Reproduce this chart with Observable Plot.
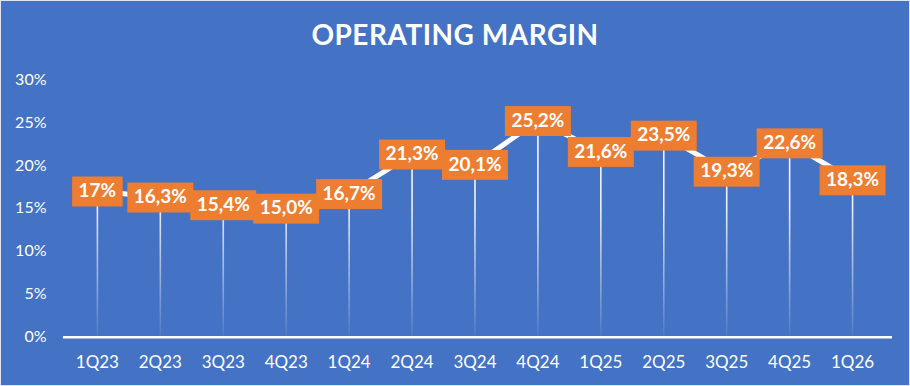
<!DOCTYPE html>
<html><head><meta charset="utf-8">
<script src="https://cdn.jsdelivr.net/npm/d3@7"></script>
<script src="https://cdn.jsdelivr.net/npm/@observablehq/plot@0.6"></script>
<style>
html,body{margin:0;padding:0;background:#4472C4;}
#wrap{width:910px;height:386px;background:#4472C4;position:relative;overflow:hidden;box-sizing:border-box;border:1px solid #dfe5f2;}
#title{position:absolute;left:-1px;top:16px;width:910px;text-align:center;color:#fff;font-family:Lato,sans-serif;font-weight:bold;font-size:28px;line-height:normal;letter-spacing:0.5px;}
#chart{position:absolute;left:-1px;top:59px;}
</style></head>
<body><div id="wrap"><div id="title">OPERATING MARGIN</div><div id="chart"></div></div>
<script>
const quarters = ["1Q23","2Q23","3Q23","4Q23","1Q24","2Q24","3Q24","4Q24","1Q25","2Q25","3Q25","4Q25","1Q26"];
const margins = [17, 16.3, 15.4, 15.0, 16.7, 21.3, 20.1, 25.2, 21.6, 23.5, 19.3, 22.6, 18.3];
const labels = ["17%","16,3%","15,4%","15,0%","16,7%","21,3%","20,1%","25,2%","21,6%","23,5%","19,3%","22,6%","18,3%"];
const yTicks = [0, 5, 10, 15, 20, 25, 30];

const data = quarters.map((q, i) => ({q, v: margins[i], label: labels[i]}));

const plot = Plot.plot({
  width: 910, height: 326,
  marginTop: 19, marginBottom: 49, marginLeft: 63, marginRight: 17,
  style: {background: "transparent", color: "white", fontFamily: "Lato, sans-serif", fontSize: "16px"},
  x: {domain: quarters, type: "point", range: [94, 855], padding: 0},
  y: {domain: [0, 30]},
  marks: [
    Plot.axisY({ticks: yTicks, tickSize: 0, tickPadding: 17, tickFormat: d => d + "%", label: null, fill: "white", fontSize: 16}),
    Plot.axisX({tickSize: 0, tickPadding: 19, label: null, fill: "white", fontSize: 17}),
    Plot.ruleX(data, {x: "q", y1: 0, y2: "v", stroke: "url(#dropGrad)", strokeWidth: 1.6}),
    Plot.ruleY([0], {stroke: "white", strokeWidth: 2.5}),
    Plot.line(data, {x: "q", y: "v", stroke: "white", strokeWidth: 5}),
    Plot.text(data, {x: "q", y: "v", text: "label", fill: "white", fontWeight: "bold", fontSize: 19})
  ]
});
document.getElementById("chart").append(plot);

const ns = "http://www.w3.org/2000/svg";
const defs = document.createElementNS(ns, "defs");
defs.innerHTML = `<linearGradient id="dropGrad" gradientUnits="userSpaceOnUse" x1="0" y1="19" x2="0" y2="277">
<stop offset="0" stop-color="#fff" stop-opacity="1"/>
<stop offset="0.5" stop-color="#fff" stop-opacity="0.9"/>
<stop offset="1" stop-color="#fff" stop-opacity="0.05"/>
</linearGradient>`;
plot.insertBefore(defs, plot.firstChild);

const tg = plot.querySelector('g[aria-label="text"]');
tg.querySelectorAll("text").forEach(t => {
  const b = t.getBBox();
  const r = document.createElementNS(ns, "rect");
  const cy = parseFloat(t.getAttribute("y") || 0);
  r.setAttribute("x", b.x - 6.5);
  r.setAttribute("width", b.width + 13);
  r.setAttribute("y", cy - 15);
  r.setAttribute("height", 30);
  r.setAttribute("fill", "#ED7D31");
  if (t.getAttribute("transform")) r.setAttribute("transform", t.getAttribute("transform"));
  tg.insertBefore(r, t);
});
</script>
</body></html>
